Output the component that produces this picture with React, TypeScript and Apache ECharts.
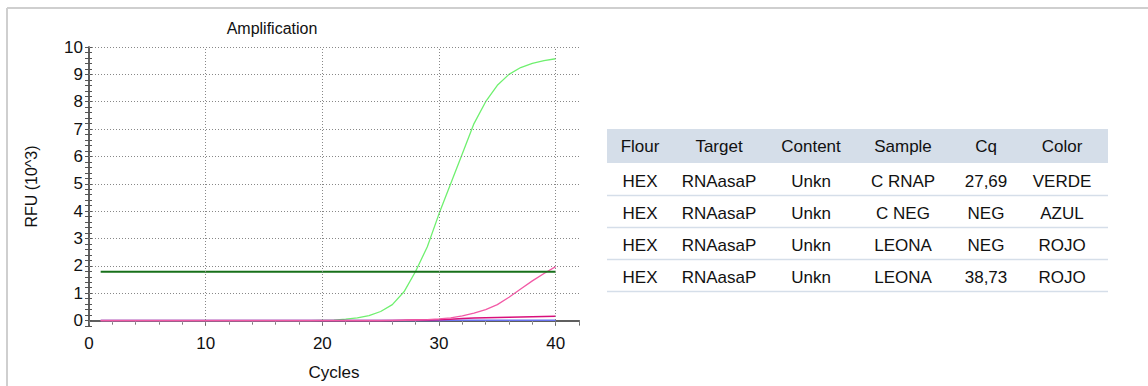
import React, { useEffect, useRef } from "react";
import * as echarts from "echarts";

const cycles = Array.from({ length: 40 }, (_, i) => i + 1);

const greenVerde = [0, 0, 0, 0, 0, 0, 0, 0, 0, 0, 0, 0, 0, 0, 0, 0, 0, 0, 0, 0.005, 0.01, 0.05, 0.1, 0.18, 0.33, 0.58, 1.05, 1.8, 2.7, 3.9, 5.0, 6.1, 7.2, 8.0, 8.6, 9.0, 9.25, 9.4, 9.5, 9.57];
const blueAzul = [0, 0, 0, 0, 0, 0, 0, 0, 0, 0, 0, 0, 0, 0, 0, 0, 0, 0, 0, 0, 0, 0, 0, 0, 0, 0, 0, 0, 0, 0.005, 0.01, 0.01, 0.01, 0.01, 0.01, 0.01, 0.01, 0.01, 0.01, 0.01];
const pinkNeg = [0, 0, 0, 0, 0, 0, 0, 0, 0, 0, 0, 0, 0, 0, 0, 0, 0, 0, 0, 0, 0, 0, 0, 0, 0, 0.005, 0.01, 0.015, 0.02, 0.03, 0.05, 0.07, 0.09, 0.1, 0.11, 0.12, 0.13, 0.14, 0.15, 0.16];
const pinkRise = [0, 0, 0, 0, 0, 0, 0, 0, 0, 0, 0, 0, 0, 0, 0, 0, 0, 0, 0, 0, 0, 0, 0, 0, 0, 0.005, 0.01, 0.02, 0.03, 0.06, 0.1, 0.17, 0.27, 0.4, 0.58, 0.85, 1.15, 1.45, 1.72, 1.97];
const threshold = 1.78;
const thresholdRange = [1, 40];

const xGridLines = [10, 20, 30, 40];
const yGridLines = [1, 2, 3, 4, 5, 6, 7, 8, 9, 10];

const tableHeader = ["Flour", "Target", "Content", "Sample", "Cq", "Color"];
const tableRows = [
  ["HEX", "RNAasaP", "Unkn", "C RNAP", "27,69", "VERDE"],
  ["HEX", "RNAasaP", "Unkn", "C NEG", "NEG", "AZUL"],
  ["HEX", "RNAasaP", "Unkn", "LEONA", "NEG", "ROJO"],
  ["HEX", "RNAasaP", "Unkn", "LEONA", "38,73", "ROJO"],
];

const FONT = "'Liberation Sans', Arial, sans-serif";

export default function App() {
  const ref = useRef<HTMLDivElement>(null);

  useEffect(() => {
    document.body.style.margin = "0";
    const chart = echarts.init(ref.current!, null, { renderer: "svg" });

    const pair = (arr: number[]) => cycles.map((c, i) => [c, arr[i]]);

    const colX = [640, 719, 811, 903, 986, 1062];
    const headerY = 146;
    const rowY0 = 181;
    const rowH = 32;

    const graphics: any[] = [
      { type: "line", shape: { x1: 7, y1: 8, x2: 1148, y2: 8 }, style: { stroke: "#cfcfcf", lineWidth: 2 } },
      { type: "line", shape: { x1: 7, y1: 8, x2: 7, y2: 386 }, style: { stroke: "#cfcfcf", lineWidth: 2 } },
      {
        type: "text",
        x: 272,
        y: 28,
        style: { text: "Amplification", fill: "#111", font: `16px ${FONT}`, textAlign: "center", textVerticalAlign: "middle" },
      },
      { type: "rect", shape: { x: 607, y: 129, width: 501, height: 34 }, style: { fill: "#d5dee9" } },
    ];
    tableHeader.forEach((h, i) => {
      graphics.push({
        type: "text",
        x: colX[i],
        y: headerY,
        style: { text: h, fill: "#111", font: `17px ${FONT}`, textAlign: "center", textVerticalAlign: "middle" },
      });
    });
    tableRows.forEach((row, r) => {
      const cy = rowY0 + r * rowH;
      row.forEach((cell, i) => {
        graphics.push({
          type: "text",
          x: colX[i],
          y: cy,
          style: { text: cell, fill: "#111", font: `17px ${FONT}`, textAlign: "center", textVerticalAlign: "middle" },
        });
      });
      graphics.push({
        type: "line",
        shape: { x1: 607, y1: cy + 14.5, x2: 1108, y2: cy + 14.5 },
        style: { stroke: "#d5dee9", lineWidth: 1.5 },
      });
    });

    const axisLineStyle = { color: "#555", width: 1.5 };

    chart.setOption({
      animation: false,
      grid: { left: 89, right: 569, top: 47, bottom: 59, show: false },
      xAxis: [
        {
          type: "value",
          min: 0,
          max: 42,
          interval: 10,
          name: "Cycles",
          nameLocation: "middle",
          nameGap: 38,
          nameTextStyle: { fontSize: 17, color: "#111", fontFamily: FONT },
          axisLine: { show: true, lineStyle: axisLineStyle },
          axisTick: { show: true, length: 5, lineStyle: { color: "#555" } },
          minorTick: { show: true, splitNumber: 5, length: 4, lineStyle: { color: "#555" } },
          axisLabel: { fontSize: 17, color: "#111", fontFamily: FONT, margin: 9, showMaxLabel: false },
          splitLine: { show: false },
        },
        {
          type: "value",
          position: "top",
          min: 0,
          max: 42,
          interval: 10,
          axisLine: { show: true, lineStyle: axisLineStyle },
          axisTick: { show: true, inside: true, length: 4, lineStyle: { color: "#777" } },
          minorTick: { show: true, splitNumber: 5, length: 3, lineStyle: { color: "#999" } },
          axisLabel: { show: false },
          splitLine: { show: false },
        },
      ],
      yAxis: [
        {
          type: "value",
          min: -0.2,
          max: 10,
          interval: 0.2,
          name: "RFU (10^3)",
          nameLocation: "middle",
          nameGap: 50,
          nameTextStyle: { fontSize: 16, color: "#111", fontFamily: FONT },
          axisLine: { show: true, lineStyle: axisLineStyle },
          axisTick: { show: true, length: 4, lineStyle: { color: "#555" } },
          axisLabel: {
            fontSize: 17,
            color: "#111",
            fontFamily: FONT,
            margin: 6,
            formatter: (v: number) => (Math.abs(v - Math.round(v)) < 1e-6 ? String(Math.round(v)) : ""),
          },
          splitLine: { show: false },
        },
        {
          type: "value",
          position: "right",
          min: -0.2,
          max: 10,
          interval: 0.2,
          axisLine: { show: true, lineStyle: axisLineStyle },
          axisTick: { show: true, length: 3, lineStyle: { color: "#555" } },
          axisLabel: { show: false },
          splitLine: { show: false },
        },
      ],
      graphic: graphics,
      series: [
        {
          type: "line",
          name: "grid",
          data: [],
          silent: true,
          markLine: {
            silent: true,
            symbol: "none",
            label: { show: false },
            lineStyle: { color: "#888", type: [1, 2], width: 1 },
            data: [
              ...xGridLines.map((v) => ({ xAxis: v })),
              ...yGridLines.map((v) => ({ yAxis: v })),
            ],
          },
        },
        {
          type: "line",
          name: "VERDE",
          data: pair(greenVerde),
          showSymbol: false,
          lineStyle: { color: "#6ff06f", width: 1.3 },
          itemStyle: { color: "#6ff06f" },
        },
        {
          type: "line",
          name: "AZUL",
          data: pair(blueAzul),
          showSymbol: false,
          lineStyle: { color: "#6a74f0", width: 1.5 },
          itemStyle: { color: "#6a74f0" },
        },
        {
          type: "line",
          name: "ROJO NEG",
          data: pair(pinkNeg),
          showSymbol: false,
          lineStyle: { color: "#d8107c", width: 1.5 },
          itemStyle: { color: "#d8107c" },
        },
        {
          type: "line",
          name: "ROJO",
          data: pair(pinkRise),
          showSymbol: false,
          lineStyle: { color: "#f25aa6", width: 1.3 },
          itemStyle: { color: "#f25aa6" },
        },
        {
          type: "line",
          name: "Threshold",
          data: thresholdRange.map((c) => [c, threshold]),
          showSymbol: false,
          lineStyle: { color: "#17701a", width: 2 },
          itemStyle: { color: "#17701a" },
        },
      ],
    });

    return () => chart.dispose();
  }, []);

  return <div ref={ref} style={{ width: 1148, height: 386 }} />;
}
